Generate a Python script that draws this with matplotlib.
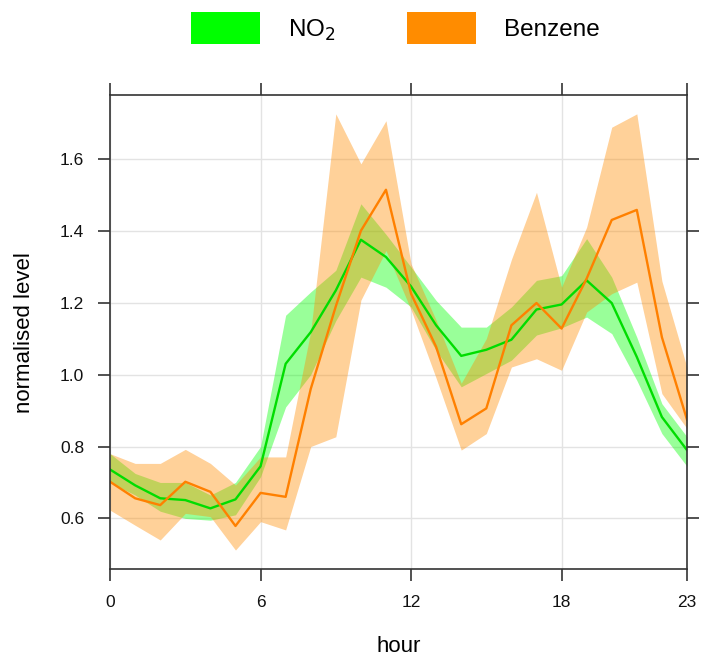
import matplotlib
matplotlib.use("Agg")
import matplotlib.pyplot as plt
from matplotlib.patches import Patch
import numpy as np

plt.rcParams['font.family'] = ['Liberation Sans', 'DejaVu Sans']

# hourly normalised levels
hours = list(range(24))

no2 = [0.736, 0.692, 0.656, 0.651, 0.628, 0.653, 0.745, 1.03, 1.118, 1.234, 1.375, 1.327,
       1.245, 1.137, 1.052, 1.069, 1.097, 1.181, 1.195, 1.262, 1.199, 1.049, 0.882, 0.79]
no2_lo = [0.70, 0.665, 0.62, 0.60, 0.595, 0.61, 0.716, 0.91, 1.00, 1.15, 1.271, 1.243,
          1.188, 1.067, 0.966, 1.003, 1.04, 1.11, 1.13, 1.16, 1.114, 0.984, 0.836, 0.745]
no2_hi = [0.78, 0.725, 0.70, 0.70, 0.665, 0.70, 0.80, 1.165, 1.23, 1.29, 1.475, 1.39,
          1.299, 1.206, 1.132, 1.132, 1.188, 1.262, 1.275, 1.378, 1.271, 1.104, 0.919, 0.827]

benzene = [0.702, 0.656, 0.637, 0.702, 0.674, 0.579, 0.671, 0.66, 0.96, 1.19, 1.40, 1.514,
           1.225, 1.077, 0.862, 0.906, 1.137, 1.199, 1.128, 1.267, 1.43, 1.458, 1.104, 0.875]
benzene_lo = [0.623, 0.581, 0.54, 0.614, 0.605, 0.512, 0.591, 0.568, 0.80, 0.827, 1.207, 1.345,
              1.18, 0.99, 0.79, 0.836, 1.021, 1.044, 1.012, 1.174, 1.225, 1.257, 0.947, 0.85]
benzene_hi = [0.78, 0.753, 0.753, 0.792, 0.753, 0.693, 0.771, 0.771, 1.12, 1.725, 1.586, 1.706,
              1.308, 1.151, 0.976, 1.10, 1.32, 1.507, 1.243, 1.41, 1.688, 1.725, 1.26, 1.02]

x_ticks = [0, 6, 12, 18, 23]
y_ticks = [0.6, 0.8, 1.0, 1.2, 1.4, 1.6]

green = '#00FF00'
orange = '#FF8C00'

fig = plt.figure(figsize=(7.01, 6.61), dpi=100)
ax = fig.add_axes([0.157, 0.139, 0.823, 0.717])

ax.fill_between(hours, no2_lo, no2_hi, color=green, alpha=0.4, lw=0)
ax.fill_between(hours, benzene_lo, benzene_hi, color=orange, alpha=0.4, lw=0)
ax.plot(hours, no2, color='#00DD00', lw=1.7)
ax.plot(hours, benzene, color='#FF8000', lw=1.7)

ax.set_xlim(0, 23)
ax.set_ylim(0.459, 1.777)
ax.set_xticks(x_ticks)
ax.set_yticks(y_ticks)
ax.set_yticklabels([f"{v:.1f}" for v in y_ticks])
ax.grid(True, color='#E3E3E3', lw=1)
ax.set_axisbelow(True)

for s in ax.spines.values():
    s.set_color('#333333')
    s.set_linewidth(1.2)
ax.tick_params(direction='out', length=8.5, width=1.2, color='#333333',
               top=True, right=True, labelsize=12.5, labelcolor='#111111', pad=10)

ax.set_xlabel('hour', fontsize=16, labelpad=19)
ax.set_ylabel('normalised level', fontsize=16, labelpad=18)

handles = [Patch(facecolor=green, edgecolor='none'), Patch(facecolor=orange, edgecolor='none')]
fig.legend(handles, ['NO$_2$', 'Benzene'], loc='center', bbox_to_anchor=(0.564, 0.957),
           ncol=2, frameon=False, fontsize=17.5, handlelength=2.85, handleheight=1.65,
           handletextpad=1.15, columnspacing=2.9, borderaxespad=0)

fig.savefig('out.png', dpi=100)
